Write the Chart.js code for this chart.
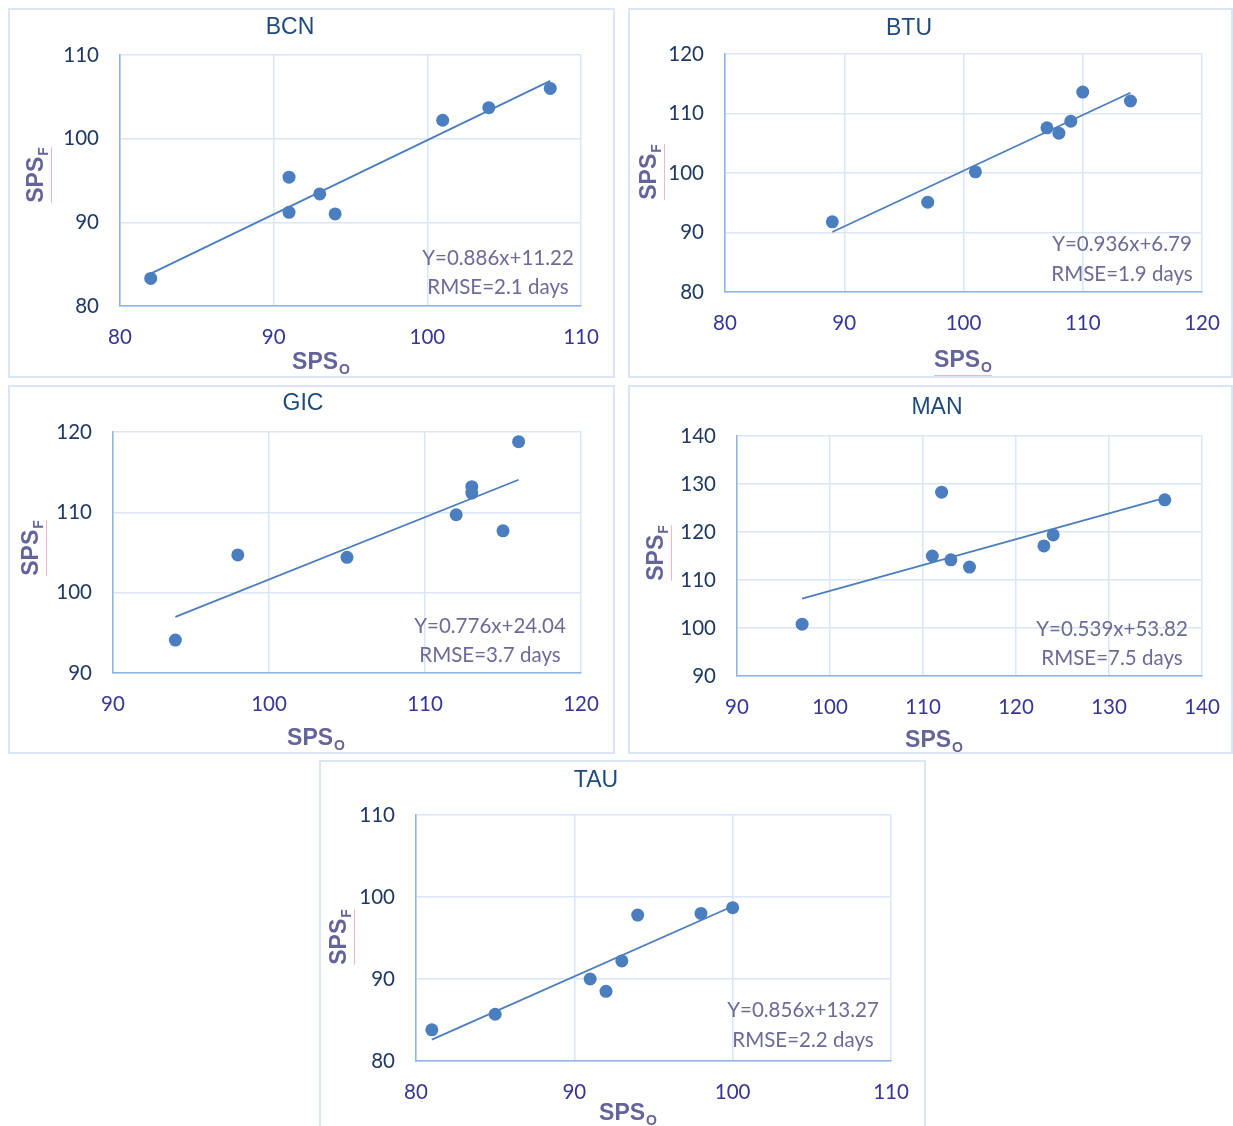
<!DOCTYPE html>
<html>
<head>
<meta charset="utf-8">
<script src="https://cdn.jsdelivr.net/npm/chart.js@4.4.1/dist/chart.umd.min.js"></script>
<style>
  html, body { margin: 0; padding: 0; background: #ffffff; }
  body { position: relative; width: 1233px; height: 1126px; overflow: hidden; }
  canvas { position: absolute; outline: 2px solid #dae6f5; outline-offset: -2px; }
</style>
</head>
<body>
<canvas id="c0"></canvas>
<canvas id="c1"></canvas>
<canvas id="c2"></canvas>
<canvas id="c3"></canvas>
<canvas id="c4"></canvas>
<script>
// Station names, one panel each
const stationNames = ['BCN', 'BTU', 'GIC', 'MAN', 'TAU'];

// Observed (SPS_O) and forecast (SPS_F) values per station
const bcnObserved = [82, 91, 91, 93, 94, 101, 104, 108];
const bcnForecast = [83.3, 95.4, 91.2, 93.4, 91.0, 102.2, 103.7, 106.0];
const btuObserved = [89, 97, 101, 107, 108, 109, 110, 114];
const btuForecast = [91.8, 95.1, 100.2, 107.6, 106.7, 108.7, 113.6, 112.1];
const gicObserved = [94, 98, 105, 112, 113, 113, 115, 116];
const gicForecast = [94.1, 104.7, 104.4, 109.7, 113.2, 112.4, 107.7, 118.8];
const manObserved = [97, 111, 112, 113, 115, 123, 124, 136];
const manForecast = [100.8, 115.0, 128.3, 114.2, 112.7, 117.1, 119.4, 126.7];
const tauObserved = [81, 85, 91, 92, 93, 94, 98, 100];
const tauForecast = [83.8, 85.7, 90.0, 88.5, 92.2, 97.8, 98.0, 98.7];

// Linear fit and error per station
const fitSlopes = [0.886, 0.936, 0.776, 0.539, 0.856];
const fitIntercepts = [11.22, 6.79, 24.04, 53.82, 13.27];
const rmseDays = [2.1, 1.9, 3.7, 7.5, 2.2];

// Axis ranges (ticks every 10)
const xAxisMin = [80, 80, 90, 90, 80];
const xAxisMax = [110, 120, 120, 140, 110];
const yAxisMin = [80, 80, 90, 90, 80];
const yAxisMax = [110, 120, 120, 140, 110];
const tickStep = 10;

const observedSets = [bcnObserved, btuObserved, gicObserved, manObserved, tauObserved];
const forecastSets = [bcnForecast, btuForecast, gicForecast, manForecast, tauForecast];

// Page layout: panel frame, plot rectangle and text anchors (page pixels)
const panelLayout = [
  { box: [8, 8, 607, 370],   plot: [120, 55, 581, 306],  title: [290, 28],  xTitle: [321, 361], yTitle: [35, 175],  eq: [498, 258, 287] },
  { box: [628, 8, 605, 370], plot: [725, 54, 1202, 292], title: [909, 29],  xTitle: [963, 359], yTitle: [648, 172], eq: [1122, 244, 274] },
  { box: [8, 385, 607, 369], plot: [113, 432, 581, 673], title: [303, 404], xTitle: [316, 737], yTitle: [30, 548],  eq: [490, 626, 655] },
  { box: [628, 385, 605, 369], plot: [737, 436, 1202, 676], title: [937, 408], xTitle: [934, 739], yTitle: [655, 553], eq: [1112, 629, 658] },
  { box: [319, 760, 607, 370], plot: [416, 815, 891, 1061], title: [596, 781], xTitle: [628, 1112], yTitle: [338, 937], eq: [803, 1010, 1040] }
];

const markerColor = '#4a7ebf';
const gridColor = '#d9e6f5';
const axisLineColor = '#8fb4e3';
const yTickColor = '#1f3864';
const xTickColor = '#36369a';
const titleColor = '#1f4a7c';
const axisTitleColor = '#64649a';
const noteColor = '#6b6b99';

// Draws panel title, axis titles with subscripts and the fit note
const panelDecor = {
  id: 'panelDecor',
  afterDraw(chart, args, o) {
    const ctx = chart.ctx;
    ctx.save();
    // title
    ctx.fillStyle = titleColor;
    ctx.font = '23px "Liberation Sans", Arial, sans-serif';
    ctx.textAlign = 'center';
    ctx.textBaseline = 'middle';
    ctx.fillText(o.title, o.titlePos[0], o.titlePos[1]);

    // axis title helper: bold "SPS" plus small subscript
    const drawAxisTitle = (cx, cy, sub, rotate) => {
      ctx.save();
      ctx.translate(cx, cy);
      if (rotate) ctx.rotate(-Math.PI / 2);
      ctx.font = 'bold 23px "Liberation Sans", Arial, sans-serif';
      const mainW = ctx.measureText('SPS').width;
      ctx.font = 'bold 14px "Liberation Sans", Arial, sans-serif';
      const subW = ctx.measureText(sub).width;
      const total = mainW + subW + 1;
      const x0 = -total / 2;
      ctx.fillStyle = axisTitleColor;
      ctx.textAlign = 'left';
      ctx.textBaseline = 'alphabetic';
      ctx.font = 'bold 23px "Liberation Sans", Arial, sans-serif';
      ctx.fillText('SPS', x0, 8);
      ctx.font = 'bold 14px "Liberation Sans", Arial, sans-serif';
      ctx.fillText(sub, x0 + mainW + 1, 13);
      // proofing underline
      ctx.strokeStyle = 'rgba(240,150,170,0.7)';
      ctx.lineWidth = 1;
      ctx.beginPath();
      ctx.moveTo(x0, 16.5);
      ctx.lineTo(x0 + total, 16.5);
      ctx.stroke();
      ctx.restore();
    };
    drawAxisTitle(o.xTitle[0], o.xTitle[1], 'O', false);
    drawAxisTitle(o.yTitle[0], o.yTitle[1], 'F', true);

    // fit equation and RMSE
    ctx.fillStyle = noteColor;
    ctx.font = '20.5px Lato, "Open Sans", sans-serif';
    ctx.textAlign = 'center';
    ctx.textBaseline = 'middle';
    ctx.fillText(o.lines[0], o.eq[0], o.eq[1]);
    ctx.fillText(o.lines[1], o.eq[0], o.eq[2]);
    ctx.restore();
  }
};

stationNames.forEach((name, i) => {
  const L = panelLayout[i];
  const [bx, by, bw, bh] = L.box;
  const [pl, pt, pr, pb] = L.plot;
  const canvas = document.getElementById('c' + i);
  canvas.width = bw;
  canvas.height = bh;
  canvas.style.left = bx + 'px';
  canvas.style.top = by + 'px';

  const obs = observedSets[i];
  const fc = forecastSets[i];
  const points = obs.map((x, k) => ({ x: x, y: fc[k] }));
  const lo = Math.min(...obs);
  const hi = Math.max(...obs);
  const trend = [lo, hi].map(x => ({ x: x, y: fitSlopes[i] * x + fitIntercepts[i] }));

  // target plot rectangle in canvas pixels
  const want = { left: pl - bx, top: pt - by, right: pr - bx, bottom: pb - by };
  const fit = { yWidth: want.left, xHeight: bh - want.bottom };
  const pad = { left: 0, top: want.top, right: bw - want.right, bottom: 0 };

  const local = p => [p[0] - bx, p[1] - by];

  const chart = new Chart(canvas, {
    type: 'scatter',
    data: {
      datasets: [
        {
          label: name,
          data: points,
          backgroundColor: markerColor,
          borderColor: markerColor,
          borderWidth: 0,
          pointRadius: 6.5,
          order: 0
        },
        {
          type: 'line',
          label: 'fit',
          data: trend,
          borderColor: markerColor,
          borderWidth: 1.8,
          pointRadius: 0,
          fill: false,
          order: 1
        }
      ]
    },
    options: {
      responsive: false,
      animation: false,
      devicePixelRatio: 1,
      layout: { padding: pad },
      plugins: {
        legend: { display: false },
        tooltip: { enabled: false },
        title: { display: false },
        panelDecor: {
          title: name,
          titlePos: local(L.title),
          xTitle: local(L.xTitle),
          yTitle: local(L.yTitle),
          eq: [L.eq[0] - bx, L.eq[1] - by, L.eq[2] - by],
          lines: [
            'Y=' + fitSlopes[i].toFixed(3) + 'x+' + fitIntercepts[i].toFixed(2),
            'RMSE=' + rmseDays[i].toFixed(1) + ' days'
          ]
        }
      },
      scales: {
        x: {
          type: 'linear',
          min: xAxisMin[i],
          max: xAxisMax[i],
          afterFit: s => {
            s.height = fit.xHeight;
            s.paddingLeft = 0;
            s.paddingRight = 0;
          },
          ticks: {
            stepSize: tickStep,
            color: xTickColor,
            font: { family: 'Lato, "Open Sans", sans-serif', size: 20.5 },
            padding: 19,
            maxRotation: 0
          },
          grid: { color: gridColor, lineWidth: 1.5, drawTicks: false },
          border: { color: axisLineColor, width: 1.5 }
        },
        y: {
          type: 'linear',
          min: yAxisMin[i],
          max: yAxisMax[i],
          afterFit: s => {
            s.width = fit.yWidth;
            s.paddingTop = 0;
            s.paddingBottom = 0;
          },
          ticks: {
            stepSize: tickStep,
            color: yTickColor,
            font: { family: 'Lato, "Open Sans", sans-serif', size: 20.5 },
            padding: 21
          },
          grid: { color: gridColor, lineWidth: 1.5, drawTicks: false },
          border: { color: axisLineColor, width: 1.5 }
        }
      }
    },
    plugins: [panelDecor]
  });

  // nudge the layout so the plot area lands on the target rectangle
  for (let pass = 0; pass < 3; pass++) {
    const ca = chart.chartArea;
    const dl = want.left - ca.left;
    const dr = ca.right - want.right;
    const dt = want.top - ca.top;
    const db = ca.bottom - want.bottom;
    if (Math.abs(dl) < 0.5 && Math.abs(dr) < 0.5 && Math.abs(dt) < 0.5 && Math.abs(db) < 0.5) break;
    fit.yWidth += dl;
    chart.options.layout.padding.right = Math.max(0, chart.options.layout.padding.right + dr);
    chart.options.layout.padding.top = Math.max(0, chart.options.layout.padding.top + dt);
    fit.xHeight += db;
    chart.update();
  }
});
</script>
</body>
</html>
